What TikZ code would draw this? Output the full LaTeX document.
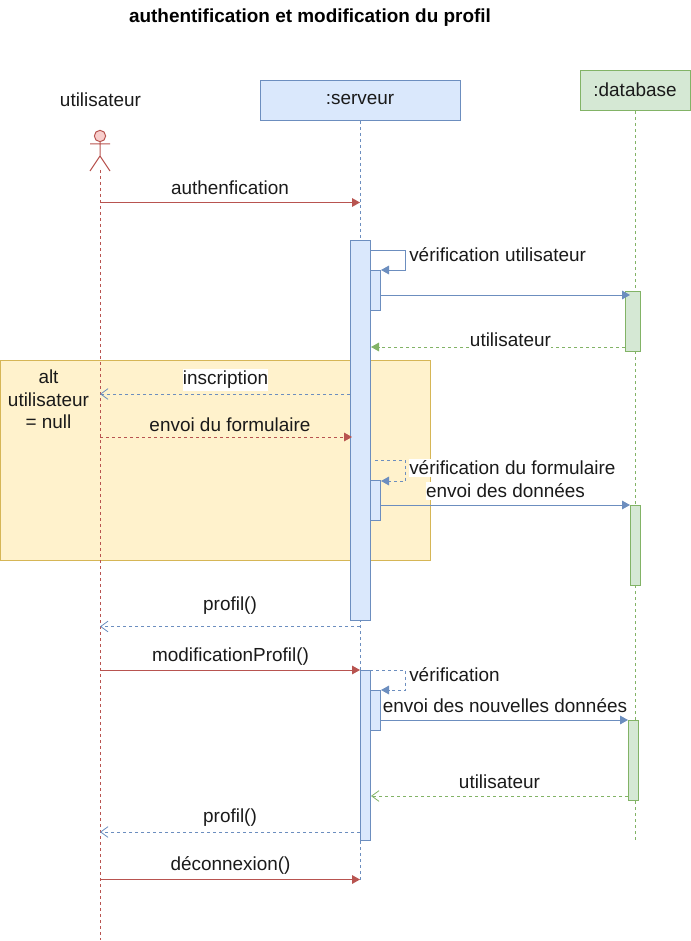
\documentclass[tikz,border=0pt]{standalone}
\usepackage{fontspec}
\setmainfont{Liberation Sans}
\usetikzlibrary{arrows.meta,fit}
\definecolor{rd}{HTML}{B85450}
\definecolor{rdf}{HTML}{F8CECC}
\definecolor{bl}{HTML}{6C8EBF}
\definecolor{blf}{HTML}{DAE8FC}
\definecolor{gr}{HTML}{82B366}
\definecolor{grf}{HTML}{D5E8D4}
\definecolor{yl}{HTML}{D6B656}
\definecolor{ylf}{HTML}{FFF2CC}
\definecolor{tx}{HTML}{1A1A1A}
\tikzset{
  x=0.75pt,y=-0.75pt,
  every node/.style={font=\fontsize{14.2}{17}\selectfont,text=tx,inner sep=0pt},
  boxb/.style={draw=bl,fill=blf,line width=0.75pt,inner sep=0pt},
  boxg/.style={draw=gr,fill=grf,line width=0.75pt,inner sep=0pt},
  boxy/.style={draw=yl,fill=ylf,line width=0.75pt,inner sep=0pt},
  lab/.style={fill=white,inner ysep=1.5pt,inner xsep=0pt},
  plain/.style={inner sep=0pt},
  life/.style={line width=0.75pt,dash pattern=on 2.25pt off 2.25pt},
  solidtip/.style={-{Triangle[length=6pt,width=6.5pt]}},
  opentip/.style={-{Straight Barb[length=5.5pt,width=8pt,line width=0.6pt]}},
  msgr/.style={draw=rd,line width=0.75pt,solidtip},
  msgb/.style={draw=bl,line width=0.75pt,solidtip},
  dsh/.style={dash pattern=on 2.25pt off 2.25pt},
}
\begin{document}
\begin{tikzpicture}
\useasboundingbox (0,0) rectangle (691,941);
% alt frame
\node[boxy,fit={(0,360) (430,560)}] (alt) {};
% heads
\node[boxb,fit={(260,80.5) (460,120.5)}] (srv) {};
\node[boxg,fit={(580,70.5) (690,110.5)}] (db) {};
\node[plain] (srvT) at (360,100) {:serveur};
\node[plain] (dbT) at (635,90) {:database};
\node[plain] (usr) at (100.5,100) {utilisateur};
% actor
\node[draw=rd,fill=rdf,circle,line width=0.75pt,minimum size=8.5pt] (head) at (100,136) {};
\coordinate (armL) at (90,144);
\coordinate (armR) at (110,144);
\coordinate (hip) at (100,156);
\coordinate (legL) at (90,171);
\coordinate (legR) at (110,171);
\draw[rd,line width=0.75pt] (head) -- (hip) (armL) -- (armR) (legL) -- (hip) -- (legR);
% lifelines
\coordinate (usrEnd) at (100,940);
\coordinate (usrTop) at (100,170);
\coordinate (srvEnd) at (360,880);
\coordinate (dbEnd) at (635,840);
\draw[rd,life] (usrTop) -- (usrEnd);
\draw[bl,life] (srv) -- (srvEnd);
\draw[gr,life] (db) -- (dbEnd);
% activations
\node[boxb,fit={(350,240) (370,620)}] (a1) {};
\node[boxb,fit={(370,270) (380,310)}] (a2) {};
\node[boxb,fit={(370,480) (380,520)}] (a3) {};
\node[boxb,fit={(360,670) (370,840)}] (a4) {};
\node[boxb,fit={(370,690) (380,730)}] (a5) {};
\node[boxg,fit={(625,291) (640,351)}] (d1) {};
\node[boxg,fit={(630,505) (640,585)}] (d2) {};
\node[boxg,fit={(628,720) (638,800)}] (d3) {};
% message end points
\coordinate (m1a) at (100,202.5); \coordinate (m1b) at (360,202.5);
\coordinate (m2a) at (381,295); \coordinate (m2b) at (630,295);
\coordinate (m3a) at (625,347); \coordinate (m3b) at (371,347);
\coordinate (m4a) at (350,394); \coordinate (m4b) at (100,394);
\coordinate (m5a) at (100,437); \coordinate (m5b) at (352,437);
\coordinate (m6a) at (380,505); \coordinate (m6b) at (630,505);
\coordinate (m7a) at (360,626.5); \coordinate (m7b) at (100,626.5);
\coordinate (m8a) at (100,670); \coordinate (m8b) at (360,670);
\coordinate (m9a) at (380,720); \coordinate (m9b) at (628,720);
\coordinate (m10a) at (628,796); \coordinate (m10b) at (371,796);
\coordinate (m11a) at (360,832); \coordinate (m11b) at (100,832);
\coordinate (m12a) at (100,879.5); \coordinate (m12b) at (360,879.5);
\draw[msgr] (m1a) -- (m1b);
\draw[msgb] (m2a) -- (m2b);
\draw[draw=gr,line width=0.75pt,dsh,solidtip] (m3a) -- (m3b);
\draw[draw=bl,line width=0.75pt,dsh,opentip] (m4a) -- (m4b);
\draw[msgr,dsh] (m5a) -- (m5b);
\draw[msgb] (m6a) -- (m6b);
\draw[draw=bl,line width=0.75pt,dsh,opentip] (m7a) -- (m7b);
\draw[msgr] (m8a) -- (m8b);
\draw[msgb] (m9a) -- (m9b);
\draw[draw=gr,line width=0.75pt,dsh,opentip] (m10a) -- (m10b);
\draw[draw=bl,line width=0.75pt,dsh,opentip] (m11a) -- (m11b);
\draw[msgr] (m12a) -- (m12b);
% self messages
\coordinate (s1a) at (370,250); \coordinate (s1c) at (405.5,250); \coordinate (s1d) at (405.5,270); \coordinate (s1b) at (381,270);
\coordinate (s2a) at (375,460); \coordinate (s2c) at (405.5,460); \coordinate (s2d) at (405.5,481); \coordinate (s2b) at (381,481);
\coordinate (s3a) at (370,670); \coordinate (s3c) at (405.5,670); \coordinate (s3d) at (405.5,690); \coordinate (s3b) at (381,690);
\draw[msgb] (s1a) -- (s1c) -- (s1d) -- (s1b);
\draw[msgb,dsh] (s2a) -- (s2c) -- (s2d) -- (s2b);
\draw[msgb,dsh] (s3a) -- (s3c) -- (s3d) -- (s3b);
% labels
\node[plain,font=\fontsize{14.2}{17}\selectfont\bfseries,text=black] (title) at (310,17.5) {authentification et modification du profil};
\node[plain] (l1) at (230,188) {authenfication};
\node[lab,anchor=west] (l2) at (409,255) {vérification utilisateur};
\node[lab] (l3) at (510.5,340) {utilisateur};
\node[lab] (l4) at (225.5,380) {inscription};
\node[plain] (l5) at (230,425) {envoi du formulaire};
\node[plain,align=center] (l6) at (48.5,399.5) {alt\\utilisateur\\= null};
\node[lab,anchor=west] (l7) at (409,468) {vérification du formulaire};
\node[lab] (l8) at (505.5,491) {envoi des données};
\node[plain] (l9) at (230,606) {profil()};
\node[plain] (l10) at (230.5,656.5) {modificationProfil()};
\node[lab,anchor=west] (l11) at (409,675) {vérification};
\node[lab] (l12) at (505,706) {envoi des nouvelles données};
\node[lab] (l13) at (499.5,782) {utilisateur};
\node[plain] (l14) at (230,818) {profil()};
\node[plain] (l15) at (230.5,865.5) {déconnexion()};
\end{tikzpicture}
\end{document}
